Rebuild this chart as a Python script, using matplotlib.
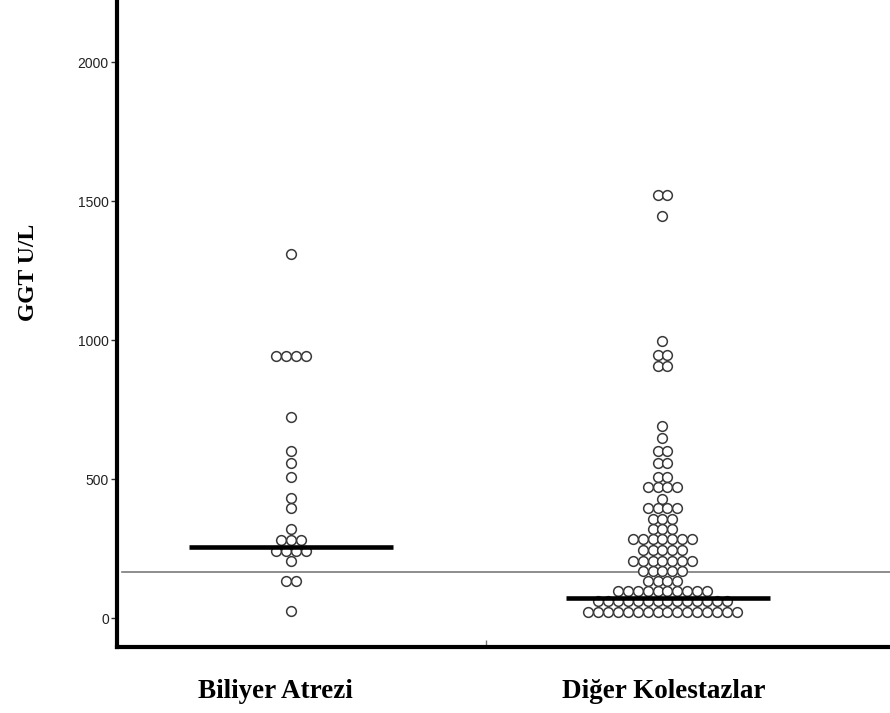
import matplotlib
matplotlib.use("Agg")
import matplotlib.pyplot as plt
import matplotlib.transforms as mtransforms
import numpy as np

# ---- data ----
categories = ["Biliyer Atrezi", "Diğer Kolestazlar"]
biliyer_values = [1310, 944, 725, 602, 559, 506, 431, 395, 319, 281, 242, 205, 134, 26]
biliyer_counts = [1, 4, 1, 1, 1, 1, 1, 1, 1, 3, 4, 1, 2, 1]
diger_values = [1523, 1447, 997, 947, 908, 692, 647, 601, 557, 508, 472, 430, 397,
                357, 320, 285, 245, 205, 168, 135, 97, 60, 23]
diger_counts = [2, 1, 1, 2, 2, 1, 1, 2, 2, 2, 4, 1, 4,
                3, 3, 7, 5, 7, 5, 4, 10, 14, 16]
medians = [257, 73]
reference_value = 164
yticks = [0, 500, 1000, 1500, 2000]

# ---- layout ----
W, H, DPI = 890, 713, 100
fig = plt.figure(figsize=(W / DPI, H / DPI), dpi=DPI)
ax = fig.add_axes([116.5 / W, 1 - 647 / H, 1 - 116.5 / W, 647 / H])

spacing = 0.02665
groups = [(biliyer_values, biliyer_counts), (diger_values, diger_counts)]
for gi, (vals, cnts) in enumerate(groups):
    xs, ys = [], []
    for v, c in zip(vals, cnts):
        offs = (np.arange(c) - (c - 1) / 2.0) * spacing
        xs.extend(gi + offs)
        ys.extend([v] * c)
    ax.plot(xs, ys, linestyle="none", marker="o", ms=7.0, mfc="white",
            mec="#3a3a3a", mew=1.1, zorder=3)

# median lines
med_centers = [0.0, 1.015]
half = 0.275
for c, m in zip(med_centers, medians):
    ax.plot([c - half, c + half], [m, m], color="black", lw=3.3,
            solid_capstyle="butt", zorder=4)

# reference line
ax.axhline(reference_value, xmin=0.007, xmax=1, color="#7a7a7a", lw=1.2, zorder=2)

ax.set_xlim(-0.4697, 1.6124)
ax.set_ylim(-104, 2223)

for s in ["top", "right"]:
    ax.spines[s].set_visible(False)
for s in ["left", "bottom"]:
    ax.spines[s].set_linewidth(3.0)
    ax.spines[s].set_color("black")

ax.set_yticks(yticks)
ax.set_yticklabels([str(t) for t in yticks], fontfamily="Liberation Sans",
                   fontsize=10, color="#222222")
ax.tick_params(axis="y", direction="out", length=4.5, width=1.0, pad=1,
               color="#333333")
ax.set_xticks([0.525])
ax.set_xticklabels([""])
ax.tick_params(axis="x", direction="in", length=5, width=1.0, color="#777777")

# category labels
trans = mtransforms.blended_transform_factory(ax.transData, ax.transAxes)
label_x = [-0.043, 1.003]
for lx, name in zip(label_x, categories):
    ax.text(lx, -0.050, name, transform=trans, ha="center", va="top",
            fontfamily="Liberation Serif", fontweight="bold", fontsize=19.5,
            clip_on=False)

fig.text(28 / W, 1 - 272 / H, "GGT U/L", rotation=90, ha="center", va="center",
         fontfamily="Liberation Serif", fontweight="bold", fontsize=17)

fig.savefig("out.png", dpi=DPI)
